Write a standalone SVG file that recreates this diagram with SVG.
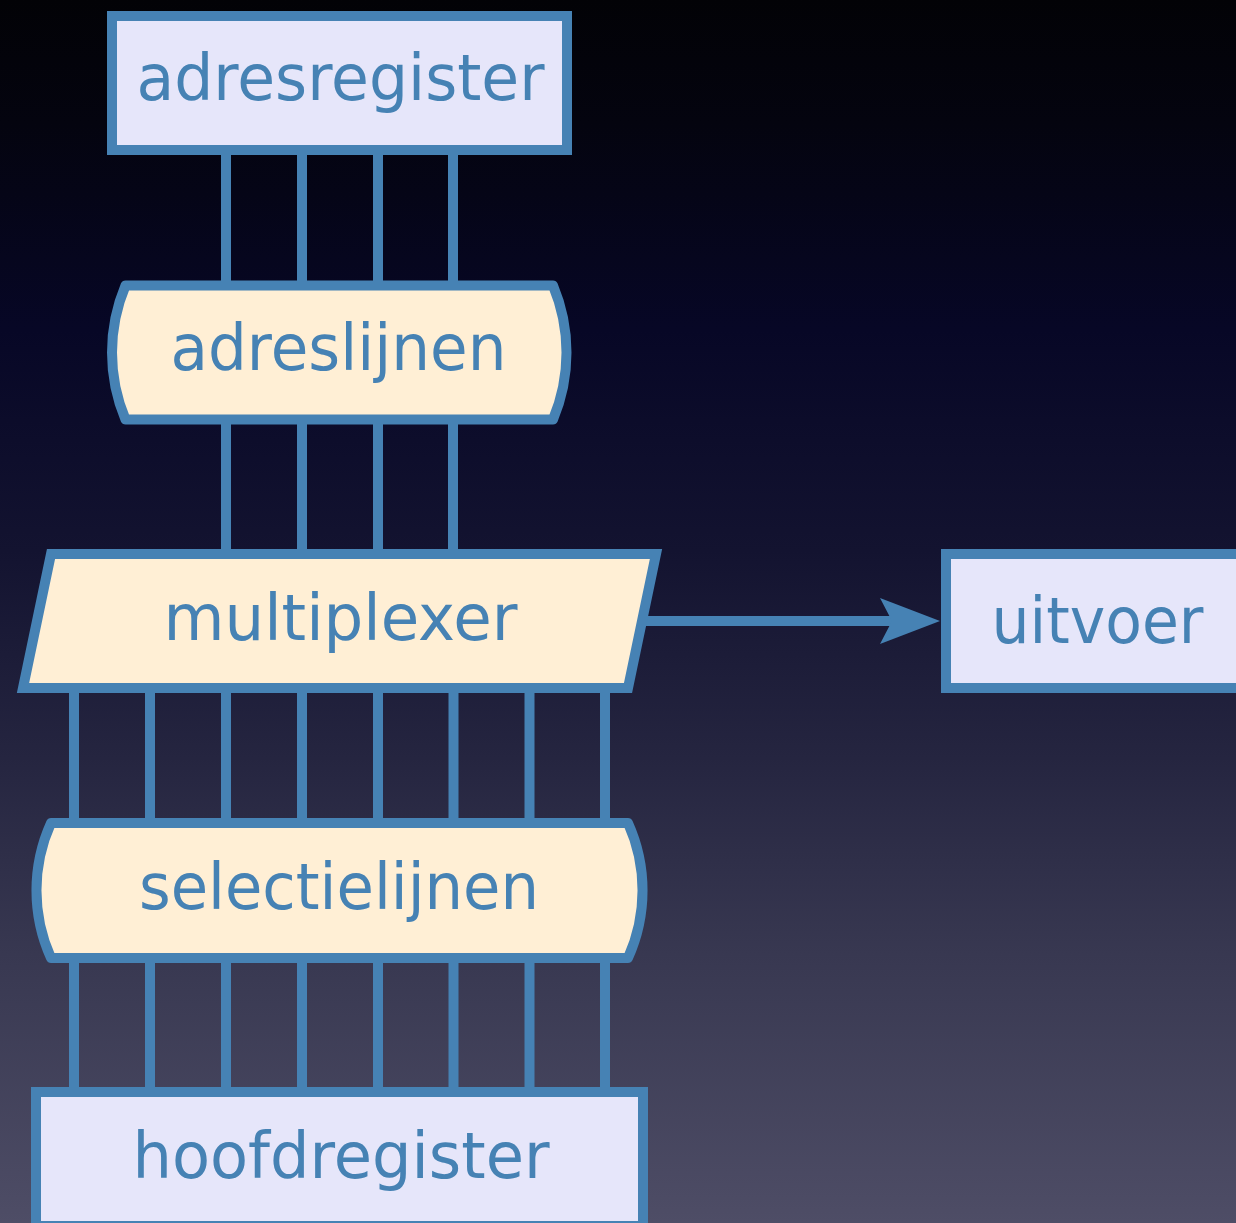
<svg xmlns="http://www.w3.org/2000/svg" width="1236" height="1223" viewBox="0 0 1236 1223">
  <defs>
    <linearGradient id="bg" x1="0" y1="0" x2="0" y2="1">
      <stop offset="0" stop-color="#020206"/>
      <stop offset="0.1" stop-color="#04040f"/>
      <stop offset="0.27" stop-color="#070726"/>
      <stop offset="0.45" stop-color="#131330"/>
      <stop offset="0.62" stop-color="#252540"/>
      <stop offset="0.78" stop-color="#383851"/>
      <stop offset="1" stop-color="#4e4d66"/>
    </linearGradient>
    <style>
      .box { fill: #e6e6fa; stroke: #4682b4; stroke-width: 10; }
      .store { fill: #ffefd5; stroke: #4682b4; stroke-width: 10; stroke-linejoin: round; }
      .proc { fill: #ffefd5; stroke: #4682b4; stroke-width: 10; }
      .bus { stroke: #4682b4; stroke-width: 10; fill: none; }
      .lbl { fill: #4682b4; font-family: "DejaVu Sans", "Liberation Sans", sans-serif; font-size: 64px; text-anchor: middle; }
    </style>
  </defs>

  <rect width="1236" height="1223" fill="url(#bg)"/>

  <!-- bus lines and output arrow -->
  <g id="connectors">
    <g class="bus">
      <path d="M226 150V286M302 150V286M378 150V286M453 150V286"/>
      <path d="M226 419V555M302 419V555M378 419V555M453 419V555"/>
      <path d="M74 687V824M150 687V824M226 687V824M302 687V824M378 687V824M453.5 687V824M529.5 687V824M605 687V824"/>
      <path d="M74 957V1093M150 957V1093M226 957V1093M302 957V1093M378 957V1093M453.5 957V1093M529.5 957V1093M605 957V1093"/>
      <path d="M642 621H892"/>
    </g>
    <polygon points="940,621 880,598 892,621 880,644" fill="#4682b4"/>
  </g>

  <g id="adresregister">
    <rect class="box" x="112" y="16" width="455" height="134"/>
    <text class="lbl" x="340.5" y="100" textLength="408" lengthAdjust="spacingAndGlyphs">adresregister</text>
  </g>

  <g id="adreslijnen">
    <path class="store" d="M125.5 285.5H553A173 173 0 0 1 553 419.5H125.5A173 173 0 0 1 125.5 285.5Z"/>
    <text class="lbl" x="338.5" y="370" textLength="336" lengthAdjust="spacingAndGlyphs">adreslijnen</text>
  </g>

  <g id="multiplexer">
    <polygon class="proc" points="51,554 656,554 628,688 23,688"/>
    <text class="lbl" x="340.5" y="640" textLength="354" lengthAdjust="spacingAndGlyphs">multiplexer</text>
  </g>

  <g id="uitvoer">
    <rect class="box" x="946" y="554" width="320" height="134"/>
    <text class="lbl" x="1097.5" y="643" textLength="212" lengthAdjust="spacingAndGlyphs">uitvoer</text>
  </g>

  <g id="selectielijnen">
    <path class="store" d="M51 823H628A164 164 0 0 1 628 958H51A164 164 0 0 1 51 823Z"/>
    <text class="lbl" x="339" y="909" textLength="400" lengthAdjust="spacingAndGlyphs">selectielijnen</text>
  </g>

  <g id="hoofdregister">
    <rect class="box" x="36" y="1092" width="607" height="134"/>
    <text class="lbl" x="341" y="1178" textLength="417" lengthAdjust="spacingAndGlyphs">hoofdregister</text>
  </g>
</svg>
